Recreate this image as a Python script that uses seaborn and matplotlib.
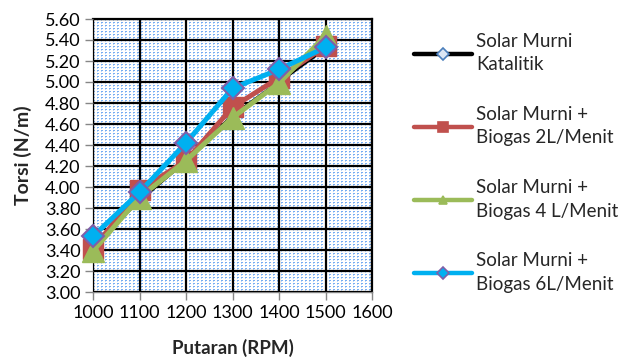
import numpy as np
import pandas as pd
import matplotlib
matplotlib.use("Agg")
import matplotlib.pyplot as plt
import seaborn as sns
from matplotlib.lines import Line2D

sns.set_theme(style="white")
plt.rcParams["font.family"] = ["Lato", "DejaVu Sans"]

# Engine speed (RPM) and torque for each fuel mixture
rpm = [1000, 1100, 1200, 1300, 1400, 1500]
katalitik = [3.45, 3.87, 4.25, 4.68, 5.00, 5.32]
biogas_2 = [3.41, 3.97, 4.25, 4.76, 5.04, 5.34]
biogas_4 = [3.39, 3.90, 4.25, 4.66, 4.99, 5.44]
biogas_6 = [3.53, 3.95, 4.42, 4.94, 5.12, 5.33]

labels = ["Solar Murni\nKatalitik",
          "Solar Murni +\nBiogas 2L/Menit",
          "Solar Murni +\nBiogas 4 L/Menit",
          "Solar Murni +\nBiogas 6L/Menit"]
x_ticks = [1000, 1100, 1200, 1300, 1400, 1500, 1600]
y_ticks = [3.00, 3.20, 3.40, 3.60, 3.80, 4.00, 4.20, 4.40, 4.60, 4.80,
           5.00, 5.20, 5.40, 5.60]

styles = [
    dict(color="#000000", lw=2.2, marker="D", ms=5, mfc="#dbe6f4", mec="#4a7ebb", mew=1.2),
    dict(color="#c0504d", lw=3.6, marker="s", ms=14, mfc="#c0504d", mec="#c0504d", mew=1),
    dict(color="#9bbb59", lw=3.6, marker="^", ms=16, mfc="#9bbb59", mec="#9bbb59", mew=1),
    dict(color="#00b0f0", lw=3.6, marker="D", ms=11, mfc="#00b0f0", mec="#7f5fa8", mew=1.5),
]
series = [katalitik, biogas_2, biogas_4, biogas_6]

fig = plt.figure(figsize=(6.21, 3.58), dpi=100)
ax = fig.add_axes([93 / 621, 1 - 292 / 358, 279 / 621, 273 / 358])

xmin, xmax, ymin, ymax = 1000, 1600, 3.0, 5.6

# dotted blue fill of the plotting area
h, w = 273, 279
pattern = np.ones((h, w, 3))
dot = np.array([0.47, 0.68, 0.95])
yy, xx = np.mgrid[0:h, 0:w]
mask = ((yy % 3) == 0) & ((xx % 4) < 2)
pattern[mask] = dot
mask2 = ((yy % 3) == 1) & ((xx % 4) == 0)
pattern[mask2] = 0.5 * dot + 0.5
ax.imshow(pattern, extent=[xmin, xmax, ymin, ymax], aspect="auto",
          interpolation="nearest", zorder=0)

for vals, lab, st in zip(series, labels, styles):
    df = pd.DataFrame({"rpm": rpm, "torsi": vals})
    sns.lineplot(data=df, x="rpm", y="torsi", ax=ax, color=st["color"],
                 linewidth=st["lw"], marker=st["marker"], markersize=st["ms"],
                 markerfacecolor=st["mfc"], markeredgecolor=st["mec"],
                 markeredgewidth=st["mew"], zorder=3, clip_on=False)

ax.set_xlim(xmin, xmax)
ax.set_ylim(ymin, ymax)
ax.set_xticks(x_ticks)
ax.set_yticks(y_ticks)
ax.set_yticklabels([f"{v:.2f}" for v in y_ticks])
ax.grid(True, color="black", linewidth=1.6, zorder=1)
ax.set_axisbelow(False)
for gl in ax.get_xgridlines() + ax.get_ygridlines():
    gl.set_zorder(1)

for side in ["left", "bottom"]:
    ax.spines[side].set_color("#868686")
    ax.spines[side].set_linewidth(1.0)
for side in ["top", "right"]:
    ax.spines[side].set_color("black")
    ax.spines[side].set_linewidth(1.6)
ax.tick_params(axis="both", which="both", direction="out", length=6, width=1,
               color="#868686", labelsize=13, labelcolor="black", pad=3)
ax.tick_params(left=True, bottom=True)

ax.set_xlabel("Putaran (RPM)", fontsize=13.5, fontweight="bold", labelpad=13)
ax.set_ylabel("Torsi (N/m)", fontsize=14, fontweight="bold", labelpad=9)

handles = []
for st in styles:
    handles.append(Line2D([0], [0], color=st["color"], lw=3.2, marker=st["marker"],
                          markersize=6 if st["marker"] != "s" else 7,
                          markerfacecolor=st["mfc"], markeredgecolor=st["mec"],
                          markeredgewidth=1.2))
leg = fig.legend(handles, labels, loc="upper left",
                 bbox_to_anchor=(414 / 621, 1 - 33 / 358),
                 frameon=False, fontsize=13.5, handlelength=3.1, handletextpad=0.2,
                 labelspacing=1.75, borderaxespad=0, borderpad=0)
for t in leg.get_texts():
    t.set_linespacing(1.45)

fig.savefig("out.png", dpi=100)
